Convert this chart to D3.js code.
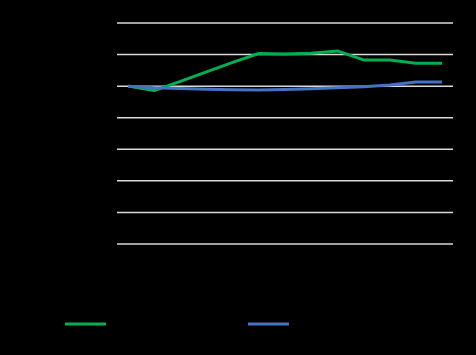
<!DOCTYPE html>
<html>
<head>
<meta charset="utf-8">
<script src="https://cdn.jsdelivr.net/npm/d3@7/dist/d3.min.js"></script>
<style>
  html, body { margin: 0; padding: 0; background: #000; }
  svg { display: block; }
</style>
</head>
<body>
<div id="chart"></div>
<script>
// values (index, start = 100)
const periods = [1, 2, 3, 4, 5, 6, 7, 8, 9, 10, 11, 12, 13];
const greenSeries = [100, 97.2, 103, 109, 115, 120.7, 120.4, 120.8, 122.3, 116.6, 116.6, 114.5, 114.5];
const blueSeries = [100, 99, 98.5, 98, 97.7, 97.6, 97.9, 98.4, 99, 99.6, 100.7, 102.6, 102.6];
const yTicks = [0, 20, 40, 60, 80, 100, 120, 140];

const W = 476, H = 355;
const margin = { top: 23, right: 23, bottom: 111, left: 117 };
const width = W - margin.left - margin.right;
const height = H - margin.top - margin.bottom;

const svg = d3.select("#chart").append("svg")
    .attr("width", W)
    .attr("height", H);

svg.append("rect")
    .attr("width", W)
    .attr("height", H)
    .attr("fill", "#000");

const g = svg.append("g")
    .attr("transform", `translate(${margin.left}, ${margin.top})`);

const x = d3.scalePoint()
    .domain(periods)
    .range([0, width])
    .padding(0.42);

const y = d3.scaleLinear()
    .domain([0, 140])
    .range([height, 0]);

// gridlines
g.append("g")
    .selectAll("line")
    .data(yTicks)
    .join("line")
    .attr("x1", 0)
    .attr("x2", width)
    .attr("y1", d => y(d))
    .attr("y2", d => y(d))
    .attr("stroke", "#d9d9d9")
    .attr("stroke-width", 1.5);

const line = d3.line()
    .x((d, i) => x(periods[i]))
    .y(d => y(d));

const series = [
    { values: greenSeries, color: "#00b050" },
    { values: blueSeries, color: "#4472c4" }
];

series.forEach(s => {
    g.append("path")
        .datum(s.values)
        .attr("fill", "none")
        .attr("stroke", s.color)
        .attr("stroke-width", 3)
        .attr("stroke-linejoin", "round")
        .attr("d", line);
});

// legend (line markers only)
const legendX = [65, 248];
series.forEach((s, i) => {
    svg.append("line")
        .attr("x1", legendX[i])
        .attr("x2", legendX[i] + 41)
        .attr("y1", 324)
        .attr("y2", 324)
        .attr("stroke", s.color)
        .attr("stroke-width", 3);
});
</script>
</body>
</html>
